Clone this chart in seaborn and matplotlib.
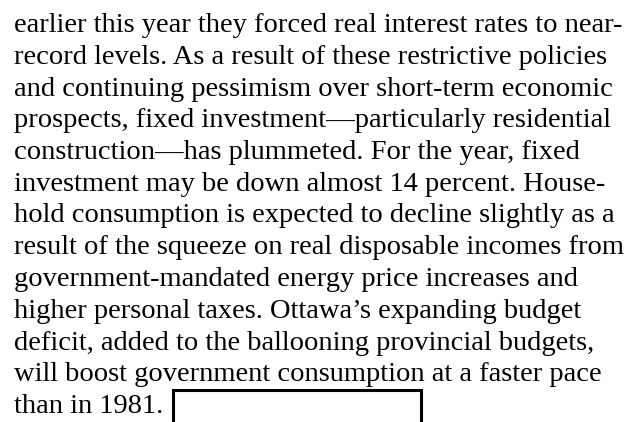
import matplotlib
matplotlib.use("Agg")
import matplotlib.pyplot as plt
import seaborn as sns

# Lineas del texto escaneado
lineas = [
    "earlier this year they forced real interest rates to near-",
    "record levels. As a result of these restrictive policies",
    "and continuing pessimism over short-term economic",
    "prospects, fixed investment\u2014particularly residential",
    "construction\u2014has plummeted. For the year, fixed",
    "investment may be down almost 14 percent. House-",
    "hold consumption is expected to decline slightly as a",
    "result of the squeeze on real disposable incomes from",
    "government-mandated energy price increases and",
    "higher personal taxes. Ottawa\u2019s expanding budget",
    "deficit, added to the ballooning provincial budgets,",
    "will boost government consumption at a faster pace",
    "than in 1981.",
]

sns.set_theme(style="white")
plt.rcParams['font.family'] = ['Liberation Serif', 'DejaVu Serif']

fig = plt.figure(figsize=(6.35, 4.22), dpi=100)
ax = fig.add_axes([0, 0, 1, 1])
ax.set_xlim(0, 635)
ax.set_ylim(422, 0)
ax.axis('off')

y0 = 32
paso = 31.75
for i, linea in enumerate(lineas):
    ax.text(14, y0 + i * paso, linea, fontsize=20.5, color='black',
            va='baseline', ha='left')

# Recuadro de la parte censurada
ax.plot([173, 173, 421, 421], [424, 390, 390, 424], color='black', lw=2.2,
        solid_joinstyle='miter')

fig.savefig("out.png", dpi=100)
